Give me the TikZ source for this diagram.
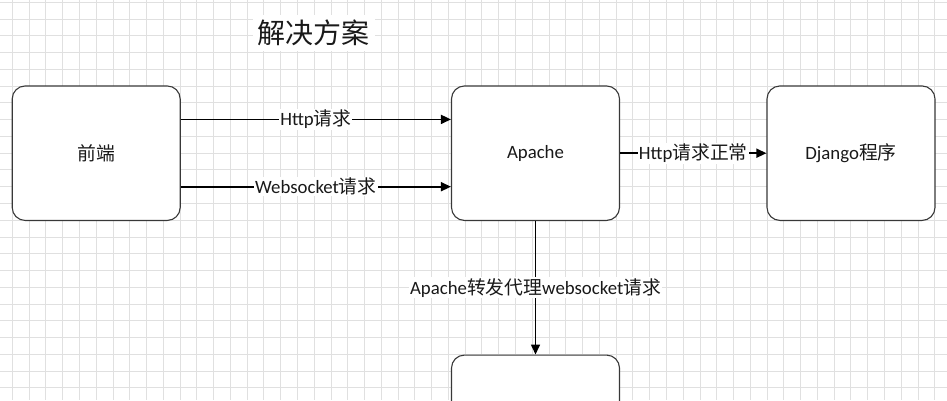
\documentclass[tikz,border=0pt]{standalone}
\usepackage{fontspec}
\setmainfont{Carlito}
\newfontfamily\cjk{Noto Sans CJK SC}
\usetikzlibrary{arrows.meta}
\tikzset{
  gridline/.style={draw=black!12, line width=0.8pt},
  box/.style={draw=black!78, line width=1.1pt, fill=white, rounded corners=13pt,
    minimum width=168pt, minimum height=134.5pt, inner sep=0pt,
    font=\fontsize{18.8pt}{21pt}\selectfont, text=black!90},
  arr/.style={draw=black, line width=1.6pt, -{Triangle[length=10pt,width=9pt]}},
  lbl/.style={fill=white, inner sep=1pt, font=\fontsize{18.8pt}{21pt}\selectfont, text=black!90},
  ttl/.style={fill=white, inner sep=5pt, font=\cjk\fontsize{28pt}{30pt}\selectfont, text=black!90}
}
\begin{document}
\begin{tikzpicture}[x=1pt, y=-1pt]
\useasboundingbox (0,0) rectangle (947,400);
\clip (0,0) rectangle (947,400);
\fill[white] (0,0) rectangle (947,400);
% grid
\foreach \i in {0,...,56} {
  \pgfmathsetmacro{\gx}{12.33+\i*16.77}
  \draw[gridline] (\gx,0) -- (\gx,400);
}
\foreach \j in {0,...,24} {
  \pgfmathsetmacro{\gy}{2.15+\j*16.77}
  \draw[gridline] (0,\gy) -- (947,\gy);
}
% title
\node[ttl] (title) at (313.5,33) {解决方案};
% boxes
\node[box] (fe) at (96.2,153.2) {{\cjk 前端}};
\node[box] (ap) at (535.5,153.2) {Apache};
\node[box] (dj) at (851,153.2) {Django{\cjk 程序}};
\node[box] (ws) at (535.5,422.3) {};
% connectors
\draw[arr] ([yshift=33.8pt]fe.east) -- node[lbl] (l1) {Http{\cjk 请求}} ([yshift=33.8pt]ap.west);
\draw[arr] ([yshift=-33.5pt]fe.east) -- node[lbl] (l2) {Websocket{\cjk 请求}} ([yshift=-33.5pt]ap.west);
\draw[arr] (ap.east) -- node[lbl] (l3) {Http{\cjk 请求正常}} (dj.west);
\draw[arr] (ap.south) -- node[lbl] (l4) {Apache{\cjk 转发代理}websocket{\cjk 请求}} (ws.north);
\end{tikzpicture}
\end{document}
